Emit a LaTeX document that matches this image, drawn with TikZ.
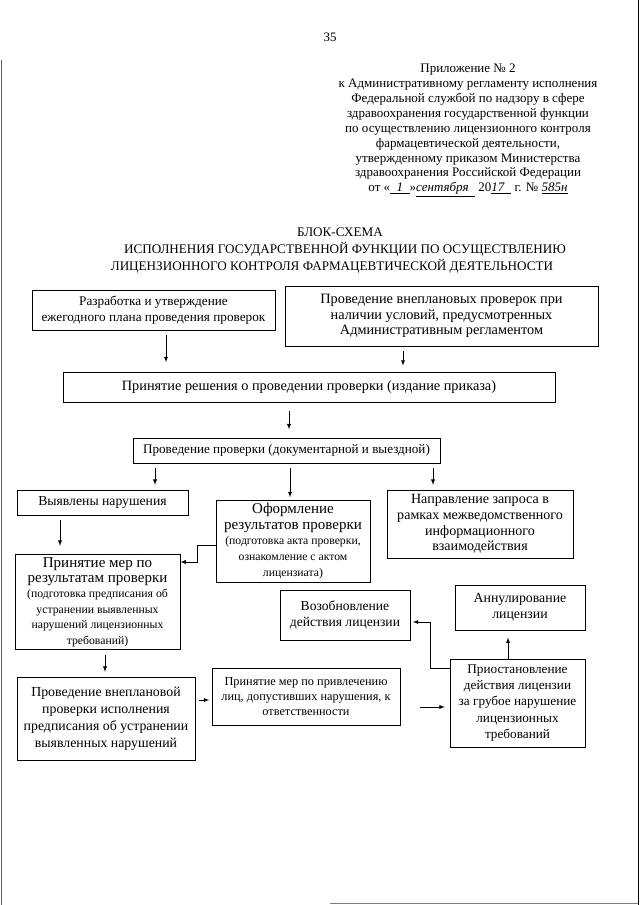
\documentclass[tikz,border=0pt]{standalone}
\usepackage{fontspec}
\setmainfont{Liberation Serif}
\newcommand\smalltext{\fontsize{10}{11}\selectfont}
\newcommand\boxfont[2]{\fontsize{#1}{#2}\selectfont}
\begin{document}
\begin{tikzpicture}[> = latex, x=0.03cm, y=-0.03cm,
    box/.style={draw, line width=0.8pt, align=center, inner sep=1pt},
    arr/.style={->, line width=0.6pt}]
    \def\px{0.03cm}
    \useasboundingbox (0, 0) rectangle (640, 905);
    % Page
    \draw [line width=1pt] (638.5, 0) -- (638.5, 905);
    \draw [line width=0.6pt, black!60] (1, 60) -- (1, 905);
    \draw [line width=0.6pt, black!50] (330, 903.5) -- (638, 903.5);
    \node [font=\boxfont{11}{13}] (page) at (330, 37) {35};
    % Header
    \node [align=center, font=\boxfont{11.1}{12.7}, anchor=north] (appendix) at (468, 60)
        {Приложение № 2\\
        к Административному регламенту исполнения\\
        Федеральной службой по надзору в сфере\\
        здравоохранения государственной функции\\
        по осуществлению лицензионного контроля\\
        фармацевтической деятельности,\\
        утвержденному приказом Министерства\\
        здравоохранения Российской Федерации\\
        от «\underline{\ \ \textit{1}\ \ }»\underline{\textit{сентября}\ \ } 20\underline{\textit{17}\ \ } г. № \underline{\textit{585н}}};
    %% Title
    \node [font=\boxfont{11.2}{13}] (title1) at (340, 232) {БЛОК-СХЕМА};
    \node [font=\boxfont{11.2}{13}] (title2) at (345, 249)
        {ИСПОЛНЕНИЯ ГОСУДАРСТВЕННОЙ ФУНКЦИИ ПО ОСУЩЕСТВЛЕНИЮ};
    \node [font=\boxfont{11.2}{13}] (title3) at (332, 266)
        {ЛИЦЕНЗИОННОГО КОНТРОЛЯ ФАРМАЦЕВТИЧЕСКОЙ ДЕЯТЕЛЬНОСТИ};
    % Boxes
    \node [box, minimum width=243*\px, minimum height=40*\px, font=\boxfont{11.3}{13.6}] (plan) at (153.5, 310)
        {Разработка и утверждение\\ежегодного плана проведения проверок};
    \node [box, minimum width=313*\px, minimum height=60*\px, font=\boxfont{12.2}{13.2}] (unplanned) at (441.5, 316)
        {Проведение внеплановых проверок при\\наличии условий, предусмотренных\\Административным регламентом};
    \node [box, minimum width=492*\px, minimum height=30*\px, font=\boxfont{12.2}{14}] (decision) at (309, 387)
        {Принятие решения о проведении проверки (издание приказа)};
    \node [box, minimum width=307*\px, minimum height=25*\px, font=\boxfont{11.2}{13}] (inspection) at (286.5, 450.5)
        {Проведение проверки (документарной и выездной)};
    \node [box, minimum width=171*\px, minimum height=25*\px, font=\boxfont{11.7}{13}] (violations) at (102.5, 502.5)
        {Выявлены нарушения};
    \node [box, minimum width=154*\px, minimum height=82*\px, font=\boxfont{12.8}{13.4}] (report) at (293, 541)
        {Оформление\\результатов проверки\\\smalltext (подготовка акта проверки,\\\smalltext ознакомление с актом\\\smalltext лицензиата)};
    \node [box, minimum width=186*\px, minimum height=68*\px, font=\boxfont{12}{13.4}] (request) at (480, 524)
        {Направление запроса в\\рамках межведомственного\\информационного\\взаимодействия};
    \node [box, minimum width=165*\px, minimum height=95*\px, font=\boxfont{12.8}{13.2}] (measures) at (97.5, 602)
        {Принятие мер по\\результатам проверки\\\smalltext (подготовка предписания об\\\smalltext устранении выявленных\\\smalltext нарушений лицензионных\\\smalltext требований)};
    \node [box, minimum width=130*\px, minimum height=50*\px, font=\boxfont{11.6}{14}] (renewal) at (345, 615)
        {Возобновление\\действия лицензии};
    \node [box, minimum width=130*\px, minimum height=45*\px, font=\boxfont{11.8}{14}] (annulment) at (520, 607.5)
        {Аннулирование\\лицензии};
    \node [box, minimum width=135*\px, minimum height=88*\px, font=\boxfont{11.3}{14}] (suspension) at (517.5, 703)
        {Приостановление\\действия лицензии\\за грубое нарушение\\лицензионных\\требований};
    \node [box, minimum width=178*\px, minimum height=83*\px, font=\boxfont{11.8}{14.5}] (recheck) at (106, 718.5)
        {Проведение внеплановой\\проверки исполнения\\предписания об устранении\\выявленных нарушений};
    \node [box, minimum width=188*\px, minimum height=57*\px, font=\boxfont{10.5}{12.6}] (liability) at (306, 696.5)
        {Принятие мер по привлечению\\лиц, допустивших нарушения, к\\ответственности};
    % Arrows
    \coordinate (x1) at (166, 0);
    \coordinate (x2) at (403, 0);
    \coordinate (x3) at (289, 0);
    \coordinate (x4) at (155, 0);
    \coordinate (x5) at (290, 0);
    \coordinate (x6) at (433, 0);
    \coordinate (x7) at (60, 0);
    \coordinate (x8) at (105, 0);
    \coordinate (x9) at (508, 0);
    \coordinate (y1) at (0, 700);
    \coordinate (y2) at (0, 707);
    \draw [arr, shorten <=4pt, shorten >=8pt] (plan.south -| x1) -- (decision.north -| x1);
    \draw [arr, shorten <=4pt, shorten >=5pt] (unplanned.south -| x2) -- (decision.north -| x2);
    \draw [arr, shorten <=7pt, shorten >=7pt] (decision.south -| x3) -- (inspection.north -| x3);
    \draw [arr, shorten <=4pt, shorten >=4pt] (inspection.south -| x4) -- (violations.north -| x4);
    \draw [arr, shorten <=4pt, shorten >=2pt] (inspection.south -| x5) -- (report.north -| x5);
    \draw [arr, shorten <=4pt, shorten >=4pt] (inspection.south -| x6) -- (request.north -| x6);
    \draw [arr, shorten <=4pt, shorten >=7pt] (violations.south -| x7) -- (measures.north -| x7);
    \draw [arr, shorten <=4pt, shorten >=4pt] (measures.south -| x8) -- (recheck.north -| x8);
    \draw [arr, shorten <=3pt, shorten >=2pt] (recheck.east |- y1) -- (liability.west |- y1);
    \draw [arr, shorten <=17pt, shorten >=4pt] (liability.east |- y2) -- (suspension.west |- y2);
    \draw [arr, shorten >=6pt] (suspension.north -| x9) -- (annulment.south -| x9);
    %% Elbows
    \coordinate (k1) at (197, 545);
    \coordinate (k2) at (430, 668);
    \coordinate (y3) at (0, 562);
    \coordinate (y4) at (0, 622);
    \draw [arr] (report.west |- k1) -- (k1) |- (measures.east |- y3);
    \draw [arr, shorten >=2pt] (suspension.west |- k2) -- (k2) |- (renewal.east |- y4);
\end{tikzpicture}
\end{document}
